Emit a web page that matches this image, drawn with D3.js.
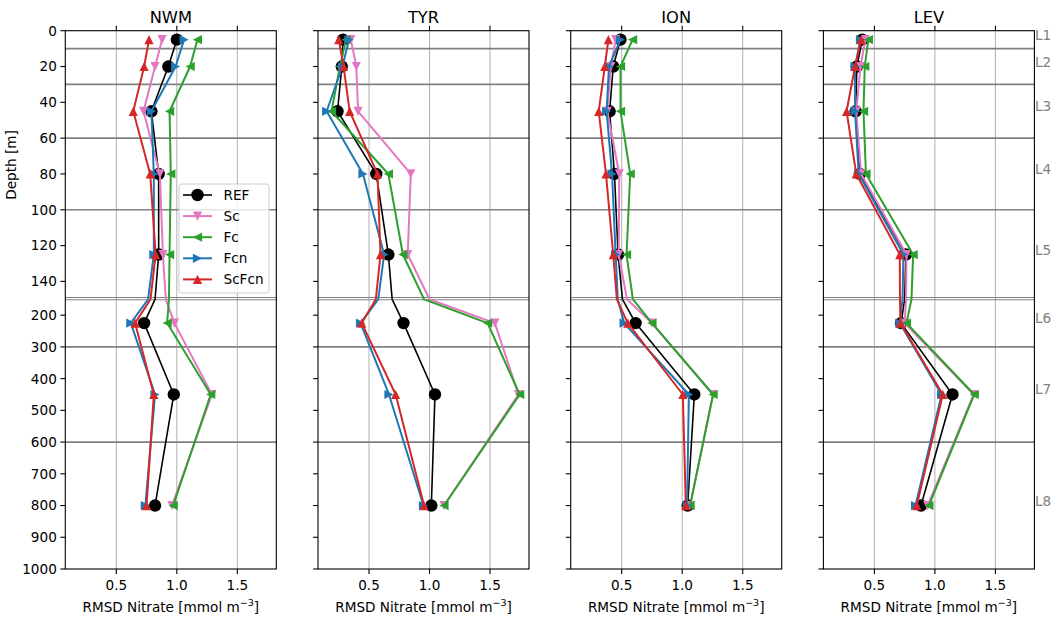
<!DOCTYPE html>
<html>
<head>
<meta charset="utf-8">
<script src="https://cdn.jsdelivr.net/npm/d3@7"></script>
<style>
  body { margin: 0; background: #fff; }
  svg { display: block; font-family: "DejaVu Sans", sans-serif; }
</style>
</head>
<body>
<svg width="1058" height="625"></svg>
<script>
// depths of the layer points [m]
const depths = [5, 20, 45, 80, 125, 225, 450, 800];
const regions = ["NWM", "TYR", "ION", "LEV"];
const seriesNames = ["REF", "Sc", "Fc", "Fcn", "ScFcn"];
const layerBounds = [10, 30, 60, 100, 150, 300, 600];
const layerLabels = ["L1", "L2", "L3", "L4", "L5", "L6", "L7", "L8"];
const topTicks = [0, 20, 40, 60, 80, 100, 120, 140];
const bottomTicks = [200, 300, 400, 500, 600, 700, 800, 900, 1000];
const xTicks = [0.5, 1.0, 1.5];

// RMSD nitrate per region and run
const NWM_REF   = [1.00, 0.93, 0.79, 0.85, 0.85, 0.73, 0.975, 0.82];
const NWM_Sc    = [0.878, 0.82, 0.725, 0.86, 0.885, 0.98, 1.29, 0.96];
const NWM_Fc    = [1.17, 1.11, 0.94, 0.95, 0.94, 0.92, 1.28, 0.97];
const NWM_Fcn   = [1.06, 0.99, 0.79, 0.81, 0.81, 0.62, 0.82, 0.74];
const NWM_ScFcn = [0.77, 0.73, 0.64, 0.78, 0.825, 0.655, 0.81, 0.75];

const TYR_REF   = [0.285, 0.275, 0.24, 0.56, 0.66, 0.785, 1.045, 1.015];
const TYR_Sc    = [0.35, 0.395, 0.41, 0.845, 0.82, 1.54, 1.735, 1.12];
const TYR_Fc    = [0.31, 0.26, 0.19, 0.66, 0.78, 1.48, 1.745, 1.12];
const TYR_Fcn   = [0.335, 0.28, 0.15, 0.45, 0.625, 0.43, 0.665, 0.95];
const TYR_ScFcn = [0.25, 0.29, 0.34, 0.57, 0.595, 0.44, 0.72, 0.955];

const ION_REF   = [0.49, 0.43, 0.40, 0.44, 0.47, 0.615, 1.10, 1.045];
const ION_Sc    = [0.45, 0.41, 0.38, 0.48, 0.475, 0.75, 1.255, 1.065];
const ION_Fc    = [0.59, 0.49, 0.49, 0.57, 0.54, 0.75, 1.255, 1.065];
const ION_Fcn   = [0.49, 0.395, 0.375, 0.42, 0.45, 0.52, 1.055, 1.04];
const ION_ScFcn = [0.39, 0.36, 0.31, 0.37, 0.43, 0.55, 1.005, 1.03];

const LEV_REF   = [0.40, 0.355, 0.345, 0.38, 0.76, 0.72, 1.145, 0.885];
const LEV_Sc    = [0.425, 0.385, 0.35, 0.39, 0.765, 0.75, 1.32, 0.94];
const LEV_Fc    = [0.45, 0.42, 0.41, 0.43, 0.82, 0.765, 1.325, 0.95];
const LEV_Fcn   = [0.385, 0.34, 0.34, 0.37, 0.74, 0.71, 1.055, 0.84];
const LEV_ScFcn = [0.39, 0.34, 0.27, 0.35, 0.71, 0.715, 1.065, 0.85];

const regionData = {
  NWM: [NWM_REF, NWM_Sc, NWM_Fc, NWM_Fcn, NWM_ScFcn],
  TYR: [TYR_REF, TYR_Sc, TYR_Fc, TYR_Fcn, TYR_ScFcn],
  ION: [ION_REF, ION_Sc, ION_Fc, ION_Fcn, ION_ScFcn],
  LEV: [LEV_REF, LEV_Sc, LEV_Fc, LEV_Fcn, LEV_ScFcn]
};

// styles per run
const styles = {
  REF:   { color: "#000000", marker: "circle", width: 1.6 },
  Sc:    { color: "#e377c2", marker: "down",   width: 2 },
  Fc:    { color: "#2ca02c", marker: "left",   width: 2 },
  Fcn:   { color: "#1f77b4", marker: "right",  width: 2 },
  ScFcn: { color: "#d62728", marker: "up",     width: 2 }
};

// layout
const panelW = 211, panelStep = 252.7, left0 = 65.3;
const yTopPx = 30.7, yMidPx = 299.3, yBotPx = 569;
const breakDepth = 150;
const fs = 13.6;

const svg = d3.select("svg");

const x = d3.scaleLinear().domain([0.0785, 1.822]).range([0, panelW]);
const yTop = d3.scaleLinear().domain([0, breakDepth]).range([yTopPx, yMidPx]);
const yBot = d3.scaleLinear().domain([breakDepth, 1000]).range([yMidPx, yBotPx]);
const yOf = d => d <= breakDepth ? yTop(d) : yBot(d);

// clip regions for both depth ranges
const defs = svg.append("defs");
defs.append("clipPath").attr("id", "clipTop")
  .append("rect").attr("x", 0).attr("y", yTopPx).attr("width", panelW).attr("height", yMidPx - yTopPx);
defs.append("clipPath").attr("id", "clipBot")
  .append("rect").attr("x", 0).attr("y", yMidPx).attr("width", panelW).attr("height", yBotPx - yMidPx);

function markerPath(type, s) {
  if (type === "down")  return `M${-s},${-s}L${s},${-s}L0,${s}Z`;
  if (type === "up")    return `M${-s},${s}L${s},${s}L0,${-s}Z`;
  if (type === "left")  return `M${s},${-s}L${s},${s}L${-s},0Z`;
  if (type === "right") return `M${-s},${-s}L${-s},${s}L${s},0Z`;
  return "";
}

function drawMarker(g, type, color, cx, cy) {
  if (type === "circle") {
    g.append("circle").attr("cx", cx).attr("cy", cy).attr("r", 6.2).attr("fill", color);
  } else {
    g.append("path").attr("transform", `translate(${cx},${cy})`)
      .attr("d", markerPath(type, 4.6)).attr("fill", color);
  }
}

regions.forEach((reg, i) => {
  const g = svg.append("g").attr("transform", `translate(${left0 + i * panelStep},0)`);

  // vertical grid
  g.append("g").selectAll("line").data(xTicks).join("line")
    .attr("x1", d => x(d)).attr("x2", d => x(d))
    .attr("y1", yTopPx).attr("y2", yBotPx)
    .attr("stroke", "#b0b0b0").attr("stroke-width", 1);

  // layer boundaries
  layerBounds.forEach(b => {
    if (b === breakDepth) {
      [yTop(b) - 1.8, yBot(b) + 0.4].forEach(yy => {
        g.append("line").attr("x1", 0).attr("x2", panelW).attr("y1", yy).attr("y2", yy)
          .attr("stroke", "#808080").attr("stroke-width", 1.1);
      });
    } else {
      g.append("line").attr("x1", 0).attr("x2", panelW)
        .attr("y1", yOf(b)).attr("y2", yOf(b))
        .attr("stroke", "#808080").attr("stroke-width", 1.6);
    }
  });

  // series
  const vals = regionData[reg];
  seriesNames.forEach((name, k) => {
    const st = styles[name];
    const pts = depths.map((d, j) => ({ d: d, v: vals[k][j] }));
    const lineTop = d3.line().x(p => x(p.v)).y(p => yTop(p.d));
    const lineBot = d3.line().x(p => x(p.v)).y(p => yBot(p.d));
    g.append("path").attr("d", lineTop(pts)).attr("clip-path", "url(#clipTop)")
      .attr("fill", "none").attr("stroke", st.color).attr("stroke-width", st.width)
      .attr("stroke-linejoin", "round");
    g.append("path").attr("d", lineBot(pts)).attr("clip-path", "url(#clipBot)")
      .attr("fill", "none").attr("stroke", st.color).attr("stroke-width", st.width)
      .attr("stroke-linejoin", "round");
    const mg = g.append("g");
    pts.forEach(p => drawMarker(mg, st.marker, st.color, x(p.v), yOf(p.d)));
  });

  // frame
  g.append("rect").attr("x", 0).attr("y", yTopPx).attr("width", panelW).attr("height", yBotPx - yTopPx)
    .attr("fill", "none").attr("stroke", "#000").attr("stroke-width", 1.1);

  // x ticks (bottom and top)
  xTicks.forEach(t => {
    g.append("line").attr("x1", x(t)).attr("x2", x(t)).attr("y1", yBotPx).attr("y2", yBotPx + 4.9)
      .attr("stroke", "#000").attr("stroke-width", 1.1);
    g.append("line").attr("x1", x(t)).attr("x2", x(t)).attr("y1", yTopPx).attr("y2", yTopPx - 4.9)
      .attr("stroke", "#000").attr("stroke-width", 1.1);
    g.append("text").attr("x", x(t)).attr("y", 590).attr("text-anchor", "middle")
      .attr("font-size", fs).attr("fill", "#000").text(t.toFixed(1));
  });

  // y ticks
  const yTickList = topTicks.map(t => ({ t: t, y: yTop(t) }))
    .concat(bottomTicks.map(t => ({ t: t, y: yBot(t) })));
  yTickList.forEach(o => {
    g.append("line").attr("x1", -4.9).attr("x2", 0).attr("y1", o.y).attr("y2", o.y)
      .attr("stroke", "#000").attr("stroke-width", 1.1);
    if (i === 0) {
      g.append("text").attr("x", -8.5).attr("y", o.y).attr("dy", "0.36em")
        .attr("text-anchor", "end").attr("font-size", fs).attr("fill", "#000").text(o.t);
    }
  });

  // title
  g.append("text").attr("x", panelW / 2).attr("y", 22.5).attr("text-anchor", "middle")
    .attr("font-size", 16.3).attr("fill", "#000").text(reg);

  // x label
  const xl = g.append("text").attr("x", panelW / 2).attr("y", 611.5).attr("text-anchor", "middle")
    .attr("font-size", fs).attr("fill", "#000");
  xl.append("tspan").text("RMSD Nitrate [mmol m");
  xl.append("tspan").attr("dy", -5.5).attr("font-size", 9.5).text("\u22123");
  xl.append("tspan").attr("dy", 5.5).text("]");

  if (i === 0) {
    g.append("text").attr("transform", `translate(-49.5,${(yTopPx + yMidPx) / 2}) rotate(-90)`)
      .attr("text-anchor", "middle").attr("font-size", fs).attr("fill", "#000").text("Depth [m]");

    // legend
    const lg = g.append("g").attr("transform", "translate(113.7,184)");
    lg.append("rect").attr("width", 90).attr("height", 109).attr("rx", 3)
      .attr("fill", "#fff").attr("fill-opacity", 0.8).attr("stroke", "#cccccc");
    seriesNames.forEach((name, k) => {
      const st = styles[name];
      const ly = 11 + k * 21.1;
      lg.append("line").attr("x1", 4).attr("x2", 33).attr("y1", ly).attr("y2", ly)
        .attr("stroke", st.color).attr("stroke-width", st.width);
      drawMarker(lg, st.marker, st.color, 18.5, ly);
      lg.append("text").attr("x", 44.5).attr("y", ly).attr("dy", "0.36em")
        .attr("font-size", fs).attr("fill", "#000").text(name);
    });
  }

  if (i === regions.length - 1) {
    g.append("g").selectAll("text").data(depths).join("text")
      .attr("x", panelW + 0.5).attr("y", d => yOf(d))
      .attr("font-size", fs).attr("fill", "#808080")
      .text((d, j) => layerLabels[j]);
  }
});
</script>
</body>
</html>
